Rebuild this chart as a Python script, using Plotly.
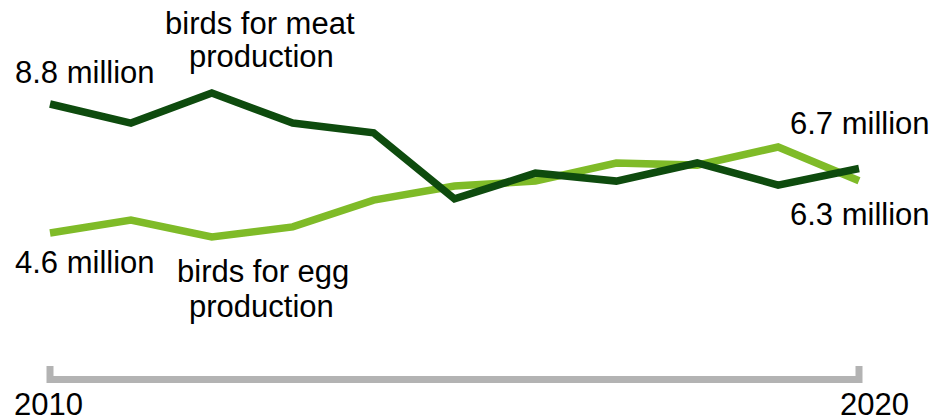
import plotly.graph_objects as go

years = list(range(2010, 2021))
meat_birds = [8.80, 8.18, 9.16, 8.18, 7.86, 5.71, 6.55, 6.29, 6.88, 6.16, 6.70]
egg_birds = [4.60, 5.02, 4.47, 4.80, 5.67, 6.13, 6.29, 6.88, 6.81, 7.40, 6.30]
year_labels = ["2010", "2020"]

W, H = 935, 418
DARK = "#0e4b0e"
LIGHT = "#7fbb28"
FONT = "Liberation Sans, Arial, sans-serif"
FS = 31


def px(x):
    return x / W


def py(y):
    return 1 - y / H


fig = go.Figure()
fig.add_trace(go.Scatter(x=years, y=egg_birds, mode="lines",
                         line=dict(color=LIGHT, width=7.5), hoverinfo="skip"))
fig.add_trace(go.Scatter(x=years, y=meat_birds, mode="lines",
                         line=dict(color=DARK, width=7.5), hoverinfo="skip"))

# bracket-like axis bar
fig.add_shape(type="path", xref="x", yref="paper",
              path=f"M {years[0]},{py(366)} L {years[0]},{py(379.5)} L {years[-1]},{py(379.5)} L {years[-1]},{py(366)}",
              line=dict(color="#b3b3b3", width=7))

anns = [
    ("8.8 million", 13, 72.5, "left"),
    ("birds for meat", 260, 24, "center"),
    ("production", 261, 57, "center"),
    ("4.6 million", 13, 262.5, "left"),
    ("birds for egg", 263, 271, "center"),
    ("production", 261, 306, "center"),
    ("6.7 million", 788, 123.5, "left"),
    ("6.3 million", 788, 214, "left"),
    (year_labels[0], 48, 404, "center"),
    (year_labels[1], 874, 404, "center"),
]
for t, x, y, xa in anns:
    fig.add_annotation(text=t, x=px(x), y=py(y), xref="paper", yref="paper",
                       xanchor=xa, yanchor="middle", showarrow=False,
                       font=dict(family=FONT, size=FS, color="#000000"))

# map 2010 -> 50px, 2020 -> 859px; 8.8 -> 104px, 4.6 -> 233px
ppy = (859 - 50) / 10
x0 = 2010 - 50 / ppy
x1 = x0 + W / ppy
vpp = (8.8 - 4.6) / (233 - 104)
y1 = 8.8 + 104 * vpp
y0 = 8.8 - (H - 104) * vpp

fig.update_layout(
    width=W, height=H, margin=dict(l=0, r=0, t=0, b=0),
    paper_bgcolor="white", plot_bgcolor="white", showlegend=False,
    xaxis=dict(range=[x0, x1], visible=False, fixedrange=True),
    yaxis=dict(range=[y0, y1], visible=False, fixedrange=True),
)
fig.write_html("out.html", config={"displayModeBar": False})
